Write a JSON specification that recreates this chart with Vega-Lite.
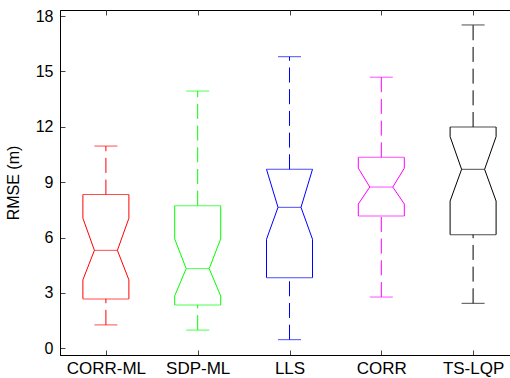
{
  "$schema": "https://vega.github.io/schema/vega-lite/v6.json",
  "autosize": "none",
  "width": 459,
  "height": 345,
  "padding": {"left": 60, "top": 10, "right": 0, "bottom": 23},
  "background": "white",
  "config": {
    "view": {"stroke": "black", "strokeWidth": 1},
    "font": "Liberation Sans",
    "tick": {"thickness": 1},
    "rule": {"strokeWidth": 1}
  },
  "data": {
    "values": [
      {"method": "CORR-ML", "lo": 1.27, "q1": 2.68, "nlo": 3.71, "med": 5.31, "nhi": 7.05, "q3": 8.33, "hi": 10.96},
      {"method": "SDP-ML", "lo": 0.99, "q1": 2.35, "nlo": 2.84, "med": 4.32, "nhi": 5.93, "q3": 7.73, "hi": 13.94},
      {"method": "LLS", "lo": 0.47, "q1": 3.83, "nlo": 5.91, "med": 7.64, "nhi": 9.70, "q3": 9.70, "hi": 15.80},
      {"method": "CORR", "lo": 2.78, "q1": 7.17, "nlo": 7.82, "med": 8.74, "nhi": 9.76, "q3": 10.35, "hi": 14.69},
      {"method": "TS-LQP", "lo": 2.44, "q1": 6.16, "nlo": 7.98, "med": 9.70, "nhi": 11.47, "q3": 11.99, "hi": 17.52}
    ]
  },
  "encoding": {
    "color": {
      "field": "method", "type": "nominal", "sort": null,
      "scale": {"domain": ["CORR-ML", "SDP-ML", "LLS", "CORR", "TS-LQP"], "range": ["#FF0000", "#00FF00", "#0000FF", "#FF00FF", "#000000"]},
      "legend": null
    }
  },
  "resolve": {"axis": {"x": "independent"}},
  "layer": [
    {
      "encoding": {
        "x": {
          "field": "method", "type": "nominal", "sort": null,
          "scale": {"type": "point", "padding": 0.5},
          "axis": {
            "orient": "bottom", "title": null, "labelAngle": 0, "labelFontSize": 17, "labelColor": "black",
            "labelPadding": 10, "tickSize": -5, "tickColor": "#444", "domainColor": "black",
            "grid": false
          }
        }
      },
      "layer": [
        {
          "mark": {"type": "rule", "strokeDash": [15, 6.7]},
          "encoding": {
            "y": {
              "field": "q3", "type": "quantitative",
              "scale": {"domain": [-0.36, 18.33], "nice": false, "zero": false},
              "axis": {
                "title": "RMSE (m)", "titleFontSize": 16, "titleFontWeight": "normal", "titleColor": "black",
                "titlePadding": 14,
                "values": [0, 3, 6, 9, 12, 15, 18], "labelFontSize": 16, "labelColor": "black",
                "labelPadding": 12, "tickSize": -5, "tickColor": "#444", "domainColor": "black", "grid": false
              }
            },
            "y2": {"field": "hi"}
          }
        },
        {
          "mark": {"type": "rule", "strokeDash": [15, 6.7]},
          "encoding": {"y": {"field": "lo", "type": "quantitative"}, "y2": {"field": "q1"}}
        },
        {
          "mark": {"type": "tick", "size": 23},
          "encoding": {"y": {"field": "hi", "type": "quantitative"}}
        },
        {
          "mark": {"type": "tick", "size": 23},
          "encoding": {"y": {"field": "lo", "type": "quantitative"}}
        },
        {
          "mark": {"type": "tick", "size": 46},
          "encoding": {"y": {"field": "q1", "type": "quantitative"}}
        },
        {
          "mark": {"type": "tick", "size": 46},
          "encoding": {"y": {"field": "q3", "type": "quantitative"}}
        },
        {
          "mark": {"type": "tick", "size": 23},
          "encoding": {"y": {"field": "med", "type": "quantitative"}}
        },
        {
          "mark": {"type": "rule", "xOffset": -23},
          "encoding": {"y": {"field": "q1", "type": "quantitative"}, "y2": {"field": "nlo"}}
        },
        {
          "mark": {"type": "rule", "xOffset": 23},
          "encoding": {"y": {"field": "q1", "type": "quantitative"}, "y2": {"field": "nlo"}}
        },
        {
          "mark": {"type": "rule", "xOffset": -23},
          "encoding": {"y": {"field": "nhi", "type": "quantitative"}, "y2": {"field": "q3"}}
        },
        {
          "mark": {"type": "rule", "xOffset": 23},
          "encoding": {"y": {"field": "nhi", "type": "quantitative"}, "y2": {"field": "q3"}}
        },
        {
          "mark": {"type": "rule", "xOffset": -23, "x2Offset": -11.5},
          "encoding": {"x2": {"field": "method"}, "y": {"field": "nlo", "type": "quantitative"}, "y2": {"field": "med"}}
        },
        {
          "mark": {"type": "rule", "xOffset": 23, "x2Offset": 11.5},
          "encoding": {"x2": {"field": "method"}, "y": {"field": "nlo", "type": "quantitative"}, "y2": {"field": "med"}}
        },
        {
          "mark": {"type": "rule", "xOffset": -23, "x2Offset": -11.5},
          "encoding": {"x2": {"field": "method"}, "y": {"field": "nhi", "type": "quantitative"}, "y2": {"field": "med"}}
        },
        {
          "mark": {"type": "rule", "xOffset": 23, "x2Offset": 11.5},
          "encoding": {"x2": {"field": "method"}, "y": {"field": "nhi", "type": "quantitative"}, "y2": {"field": "med"}}
        }
      ]
    },
    {
      "mark": {"type": "tick", "size": 23, "opacity": 0},
      "encoding": {
        "x": {
          "field": "method", "type": "nominal", "sort": null,
          "scale": {"type": "point", "padding": 0.5},
          "axis": {"orient": "top", "title": null, "labels": false, "domain": false, "tickSize": -5, "tickColor": "#444", "grid": false}
        },
        "y": {"field": "med", "type": "quantitative"}
      }
    }
  ]
}
